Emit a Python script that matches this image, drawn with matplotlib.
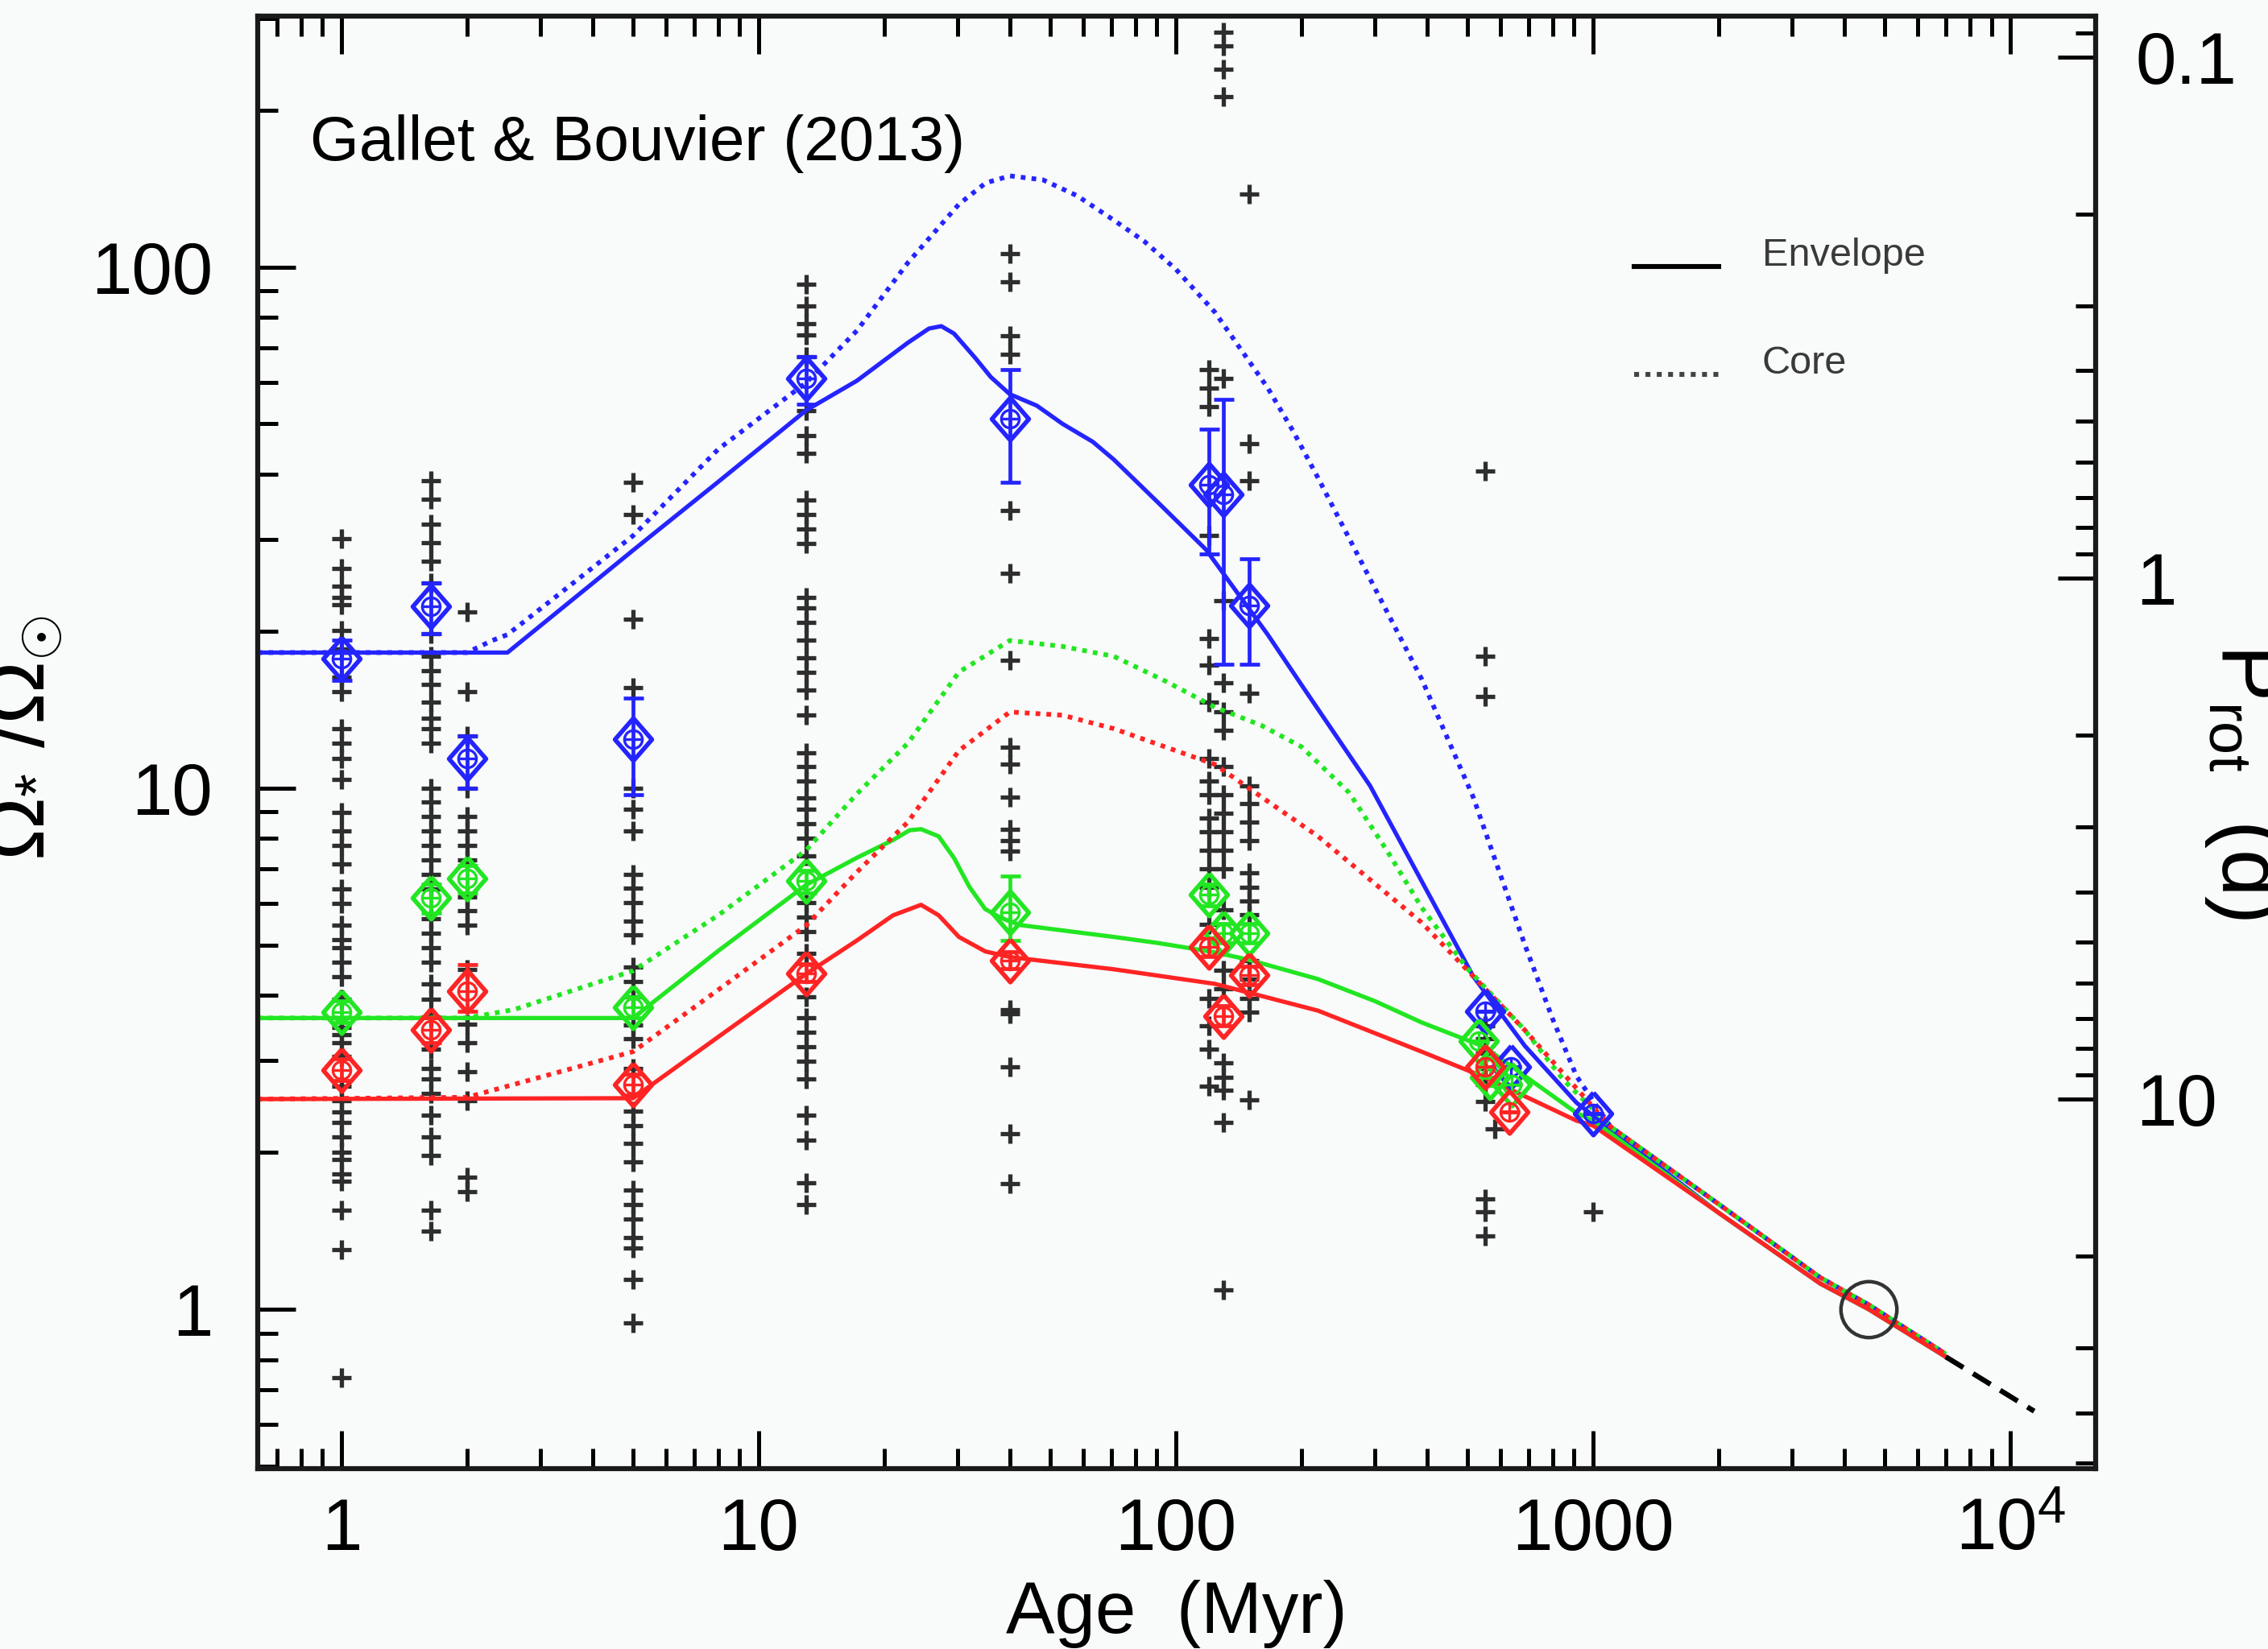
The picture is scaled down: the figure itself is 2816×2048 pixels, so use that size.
import numpy as np
import matplotlib
matplotlib.use('Agg')
import matplotlib.pyplot as plt
from matplotlib.lines import Line2D
from matplotlib.ticker import LogLocator, NullFormatter

plt.rcParams['font.family'] = ['Liberation Sans', 'DejaVu Sans']
plt.rcParams['mathtext.fontset'] = 'custom'
plt.rcParams['mathtext.rm'] = 'Liberation Sans'
plt.rcParams['mathtext.it'] = 'Liberation Sans:italic'
plt.rcParams['mathtext.bf'] = 'Liberation Sans:bold'

# ---------------- observed rotation rates (black crosses) ----------------
obs_ages = [1.0, 1.64, 2.0, 5.0, 13.0, 40.0, 120.0, 130.0, 150.0, 550.0, 580.0, 1000.0]
obs_1 = [30.1, 26.4, 24.4, 23.2, 22.5, 20.1, 18.5, 16.3, 15.3, 13.0, 12.2, 11.4, 10.4, 8.97,
         8.28, 7.76, 7.16, 6.40, 6.0, 5.45, 5.11, 4.94, 4.63, 4.35, 3.94, 3.47, 3.36, 3.25,
         3.05, 2.68, 2.51, 2.39, 2.28, 2.14, 2.0, 1.94, 1.82, 1.76, 1.55, 1.30, 0.74]
obs_1p6 = [38.9, 35.9, 32.1, 29.6, 27.3, 24.8, 19.8, 17.9, 16.8, 15.8, 14.6, 13.6, 13.0, 12.2,
           10.0, 9.42, 8.83, 8.28, 7.76, 7.28, 6.82, 6.40, 5.62, 5.27, 4.94, 4.63, 4.21, 3.94,
           3.64, 3.15, 2.90, 2.77, 2.59, 2.36, 2.14, 1.97, 1.55, 1.41]
obs_2 = [21.8, 15.3, 12.6, 10.0, 8.83, 8.28, 7.76, 7.28, 6.19, 5.81, 5.45, 4.49, 3.52, 3.25,
         2.86, 2.51, 1.79, 1.68]
obs_5 = [38.6, 33.5, 21.1, 15.6, 10.0, 9.1, 8.27, 6.84, 6.42, 6.03, 5.56, 5.22, 4.53, 4.25,
         3.98, 3.51, 3.30, 2.90, 2.40, 2.25, 2.08, 1.92, 1.69, 1.59, 1.49, 1.37, 1.31, 1.14, 0.94]
obs_13 = [92.7, 84.2, 77.8, 74.1, 67.4, 53.1, 47.5, 43.9, 35.7, 33.5, 31.4, 29.5, 23.2, 22.2,
          20.8, 19.2, 17.8, 16.7, 15.4, 13.8, 11.7, 11.0, 10.3, 9.56, 9.1, 8.55, 8.02, 7.41,
          6.03, 5.65, 5.31, 4.82, 3.98, 3.62, 3.40, 3.19, 2.99, 2.77, 2.36, 2.11, 1.75, 1.59]
obs_40 = [106, 93.8, 73.9, 68.1, 34.1, 25.8, 17.6, 12.0, 11.1, 9.61, 8.34, 7.94, 7.57, 3.76,
          3.69, 2.92, 2.17, 1.74]
obs_120 = [63.5, 58.6, 54.0, 30.5, 19.4, 17.2, 14.6, 11.4, 10.3, 9.7, 8.77, 8.24, 7.6, 7.0,
           6.46, 5.48, 3.95, 3.5, 3.16, 2.68]
obs_130 = [282, 266, 240, 212, 61.1, 22.9, 15.9, 14.0, 12.9, 11.0, 9.7, 8.95, 8.24, 7.6, 7.0,
           5.83, 4.47, 4.12, 2.97, 2.79, 2.63, 2.28, 1.09]
obs_150 = [138, 45.8, 38.9, 15.2, 10.1, 9.33, 8.6, 7.92, 6.87, 6.46, 6.07, 5.71, 4.66, 4.3,
           3.95, 3.72, 2.52]
obs_550 = [40.6, 17.9, 15.0, 3.5, 3.3, 3.1, 2.9, 2.7, 2.5, 1.63, 1.54, 1.38]
obs_580 = [2.22]
obs_1000 = [1.54]
obs_lists = [obs_1, obs_1p6, obs_2, obs_5, obs_13, obs_40, obs_120, obs_130, obs_150,
             obs_550, obs_580, obs_1000]

# ---------------- percentiles (diamonds) ----------------
blue_age = [1.0, 1.64, 2.0, 5.0, 13.0, 40.0, 120.0, 130.0, 150.0, 550.0, 635.0, 1000.0]
blue_med = [17.7, 22.3, 11.4, 12.4, 61.2, 51.2, 38.2, 36.6, 22.4, 3.73, 2.92, 2.37]
blue_lo = [16.1, 19.8, 10.0, 9.7, 54.5, 38.6, 28.1, 17.3, 17.3, 3.73, 2.92, 2.37]
blue_hi = [19.2, 24.8, 12.6, 14.9, 67.4, 63.6, 48.8, 55.8, 27.5, 3.73, 2.92, 2.37]

green_age = [1.0, 1.64, 2.0, 5.0, 13.0, 40.0, 120.0, 130.0, 150.0, 532.0, 566.0, 638.0]
green_med = [3.72, 6.15, 6.71, 3.80, 6.63, 5.78, 6.25, 5.26, 5.26, 3.27, 2.79, 2.70]
green_lo = [3.55, 5.75, 6.30, 3.62, 6.30, 5.10, 5.95, 5.05, 5.05, 3.27, 2.79, 2.70]
green_hi = [3.90, 6.55, 7.10, 3.98, 6.95, 6.79, 6.55, 5.50, 5.50, 3.27, 2.79, 2.70]

red_age = [1.0, 1.64, 2.0, 5.0, 13.0, 40.0, 120.0, 130.0, 150.0, 550.0, 630.0]
red_med = [2.88, 3.43, 4.07, 2.70, 4.41, 4.67, 4.96, 3.65, 4.37, 2.92, 2.39]
red_lo = [2.75, 3.25, 3.73, 2.58, 4.25, 4.50, 4.75, 3.50, 4.20, 2.92, 2.39]
red_hi = [3.02, 3.62, 4.59, 2.83, 4.60, 4.85, 5.15, 3.82, 4.55, 2.92, 2.39]

# ---------------- model curves ----------------
tail_age = [2000, 3500, 4570, 7000]
tail_env = [1.53, 1.12, 1.00, 0.81]
tail_core = [1.59, 1.15, 1.02, 0.82]

blue_env_age = [0.63, 2.5, 4.07, 5, 8, 13, 17.2, 22.8, 25.6, 27.4, 29.4, 33, 36, 40, 46.4,
                53.5, 63.2, 71, 91, 118, 166, 203, 292, 388, 516, 686, 912, 1000]
blue_env = [18.2, 18.2, 25.0, 28.6, 38.7, 53.1, 60.5, 71.6, 76.2, 77.0, 74.5, 67.0, 61.5,
            57.0, 54.2, 50.0, 46.2, 42.7, 35.2, 28.7, 19.7, 15.5, 10.1, 6.63, 4.35, 3.2,
            2.49, 2.35]
blue_core_age = [0.63, 2.0, 2.3, 2.5, 3.2, 5, 8, 13, 17.2, 22.8, 30.2, 35, 40, 48, 58, 71,
                 84, 100, 124, 166, 191, 219, 276, 388, 516, 686, 800, 912, 1100]
blue_core = [18.2, 18.2, 19.2, 19.7, 23.0, 30.5, 44.7, 60.0, 75.5, 102, 132, 145, 149.6,
             147, 137, 123, 112, 99, 81.9, 58.6, 48.4, 39.4, 27.5, 16.2, 9.6, 5.0, 3.6, 2.8,
             2.24]

green_env_age = [0.63, 5, 8, 13, 17.2, 21, 23, 24.5, 27, 29.4, 32, 34.9, 38, 42.3, 71, 91,
                 124, 150, 219, 300, 388, 547, 912, 1000]
green_env = [3.62, 3.62, 4.87, 6.52, 7.35, 7.95, 8.3, 8.34, 8.08, 7.34, 6.46, 5.86, 5.64,
             5.46, 5.18, 5.04, 4.84, 4.68, 4.3, 3.9, 3.55, 3.19, 2.38, 2.30]
green_core_age = [0.63, 2.0, 2.6, 5, 8, 13, 17.2, 22.8, 30.2, 40, 53.5, 71, 95, 124, 160,
                  200, 260, 320, 388, 500, 686, 850, 1100]
green_core = [3.62, 3.62, 3.76, 4.46, 5.7, 7.6, 9.75, 12.2, 16.7, 19.2, 18.7, 17.9, 16.0,
              14.3, 13.2, 12.0, 9.8, 7.6, 5.9, 4.5, 3.43, 2.75, 2.24]

red_env_age = [0.63, 5, 8, 13, 17.2, 21, 24.5, 27, 30.2, 34.9, 40, 71, 124, 219, 388, 547,
               912, 1000]
red_env = [2.53, 2.54, 3.33, 4.4, 5.1, 5.7, 5.97, 5.7, 5.18, 4.86, 4.74, 4.49, 4.21, 3.74,
           3.12, 2.79, 2.30, 2.25]
red_core_age = [0.63, 2.0, 5, 8, 13, 17.2, 22.8, 30.2, 40, 53.5, 71, 124, 219, 388, 686, 1100]
red_core = [2.53, 2.55, 3.12, 4.1, 5.45, 6.9, 8.61, 11.8, 14.0, 13.8, 13.0, 11.1, 8.08, 5.52,
            3.43, 2.24]

ext_age = [7000, 11400]
ext_omega = [0.81, 0.637]

sun_age = [4570]
sun_omega = [1.0]

P_SUN = 25.3  # Prot (d) corresponding to Omega/Omega_sun = 1

# ---------------- figure ----------------
bg = '#f9fafa'
BLUE, GREEN, RED = '#2424ff', '#22e622', '#ff2424'
fig = plt.figure(figsize=(14.08, 10.24), dpi=200)
fig.patch.set_facecolor(bg)
ax = fig.add_axes([0.1136, 0.1096, 0.8104, 0.8806])
ax.set_facecolor(bg)
ax.set_xscale('log')
ax.set_yscale('log')
ax.set_xlim(0.63, 16000)
ax.set_ylim(0.495, 303)

# crosses
xs = np.concatenate([[a] * len(o) for a, o in zip(obs_ages, obs_lists)])
ys = np.concatenate([np.asarray(o, float) for o in obs_lists])
ax.plot(xs, ys, ls='none', marker='+', ms=8.5, mew=1.9, color='#2e2e2e', zorder=2)

# model curves
dot = (0, (1, 1.3))
for c, ea, e, ca, co in [(BLUE, blue_env_age, blue_env, blue_core_age, blue_core),
                         (GREEN, green_env_age, green_env, green_core_age, green_core),
                         (RED, red_env_age, red_env, red_core_age, red_core)]:
    ax.plot(list(ca) + tail_age, list(co) + tail_core, color=c, lw=2.1, ls=dot, zorder=3)
    ax.plot(list(ea) + tail_age, list(e) + tail_env, color=c, lw=1.9, ls='-', zorder=3)

ax.plot(ext_age, ext_omega, color='black', lw=2.3, ls=(0, (4, 2.2)), zorder=3)

# diamonds
diam = [(0, 1), (0.87, 0), (0, -1), (-0.87, 0), (0, 1)]
for c, a, m, lo, hi in [(BLUE, blue_age, blue_med, blue_lo, blue_hi),
                        (GREEN, green_age, green_med, green_lo, green_hi),
                        (RED, red_age, red_med, red_lo, red_hi)]:
    m_ = np.asarray(m, float)
    yerr = [m_ - np.asarray(lo, float), np.asarray(hi, float) - m_]
    ax.errorbar(a, m_, yerr=yerr, fmt='none', ecolor=c, elinewidth=1.7, capsize=4.5,
                capthick=1.7, zorder=4)
    ax.plot(a, m_, ls='none', marker=diam, ms=19, mfc='none', mec=c, mew=2.0, zorder=5)
    ax.plot(a, m_, ls='none', marker='o', ms=8, mfc='none', mec=c, mew=1.2, zorder=5)
    ax.plot(a, m_, ls='none', marker='+', ms=8, mec=c, mew=1.2, zorder=5)

# Sun
ax.plot(sun_age, sun_omega, ls='none', marker='o', ms=25, mfc='none', mec='#333333',
        mew=1.6, zorder=6)

# ticks
ax.set_xticks([1, 10, 100, 1000, 10000])
ax.set_xticklabels(['1', '10', '100', '1000', r'$10^{4}$'])
ax.xaxis.set_minor_locator(LogLocator(base=10, subs=np.arange(2, 10), numticks=20))
ax.xaxis.set_minor_formatter(NullFormatter())
ax.set_yticks([1, 10, 100])
ax.set_yticklabels(['1', '10', '100'])
ax.yaxis.set_minor_locator(LogLocator(base=10, subs=np.arange(2, 10), numticks=20))
ax.yaxis.set_minor_formatter(NullFormatter())
ax.tick_params(which='both', direction='in', top=True, bottom=True, left=True, right=False,
               color='black')
ax.tick_params(which='major', length=17, width=1.8, labelsize=32.7)
ax.tick_params(which='minor', length=9, width=1.8)
ax.tick_params(axis='x', which='major', pad=12.7)
ax.tick_params(axis='y', which='major', pad=20)

ax2 = ax.twinx()
ax2.set_yscale('log')
ax2.set_ylim(P_SUN / 0.495, P_SUN / 303)
ax2.set_yticks([0.1, 1, 10])
ax2.set_yticklabels(['0.1', '1', '10'])
ax2.yaxis.set_minor_locator(LogLocator(base=10, subs=np.arange(2, 10), numticks=20))
ax2.yaxis.set_minor_formatter(NullFormatter())
ax2.tick_params(which='both', direction='in', right=True, left=False)
ax2.tick_params(which='major', length=17, width=1.8, labelsize=32.7, pad=18)
ax2.tick_params(which='minor', length=9, width=1.8)

for a_ in (ax, ax2):
    for s in a_.spines.values():
        s.set_linewidth(2.2)
        s.set_color('#1a1a1a')

# labels
ax.set_xlabel('Age  (Myr)', fontsize=32.7)
ax.xaxis.set_label_coords(0.5, -0.0767)
ax.set_ylabel(r'$\Omega_{*}\ /\Omega_{\odot}$', fontsize=38, rotation=90, va='center')
ax.yaxis.set_label_coords(-0.128, 0.503)
ax2.set_ylabel(r'P$_{\rm rot}$  (d)', fontsize=38, rotation=270, va='center')
ax2.yaxis.set_label_coords(1.081, 0.473)

ax.text(0.0285, 0.9007, 'Gallet & Bouvier (2013)', transform=ax.transAxes, fontsize=28.2,
        va='baseline', ha='left', color='black')

handles = [Line2D([], [], color='black', lw=2.2, ls='-'),
           Line2D([], [], color='#444444', lw=2.2, ls=dot)]
leg = ax.legend(handles, ['Envelope', 'Core'], loc='upper left',
                bbox_to_anchor=(0.749, 0.8475), frameon=False, fontsize=17.5,
                handlelength=2.16, handletextpad=1.1, labelspacing=1.82, borderpad=0,
                borderaxespad=0)
for t in leg.get_texts():
    t.set_color('#3a3a3a')
for ln in leg.get_lines():
    ln.set_ydata(np.asarray(ln.get_ydata(), float) - 6.5)

fig.savefig('out.png', dpi=200, facecolor=bg)
